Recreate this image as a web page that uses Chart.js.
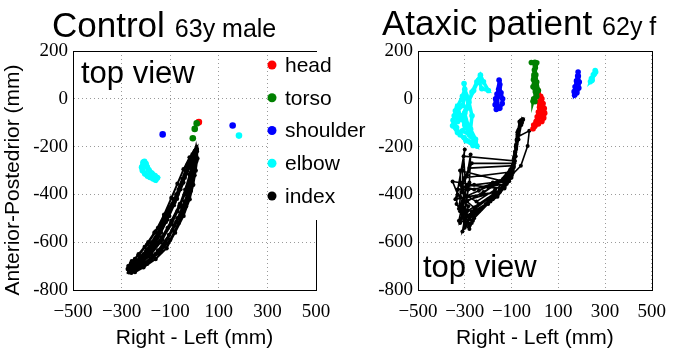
<!DOCTYPE html>
<html lang="en">

<head>
    <meta charset="UTF-8">
    <title>Control vs Ataxic patient - top view</title>
    <script src="https://cdn.jsdelivr.net/npm/chart.js"></script>
    <style>
        body {
            margin: 0;
            background: #ffffff;
            width: 677px;
            height: 351px;
            overflow: hidden;
            position: relative;
        }

        canvas {
            position: absolute;
            top: 0;
        }

        #ctrl { left: 0; }
        #atax { left: 340px; }
    </style>
</head>

<body>
    <canvas id="ctrl" width="375" height="351"></canvas>
    <canvas id="atax" width="337" height="351"></canvas>

    <script>
        // axes
        const xTicks = [-500, -300, -100, 100, 300, 500];
        const yTicks = [-800, -600, -400, -200, 0, 200];
        const parts = ['head', 'torso', 'shoulder', 'elbow', 'index'];
        const partColors = ['#ff0000', '#008000', '#0000ff', '#00ffff', '#000000'];

        // control, 63y male  [right-left, anterior-posterior] in mm
        const ctrlHead = [[16, -99], [18, -97]];
        const ctrlTorso = [[9, -103], [1, -126], [-7, -165]];
        const ctrlShoulder = [[-131, -149], [157, -112]];
        const ctrlElbowR = [[183, -154]];
        const ctrlElbowL = [[-211, -265], [-217, -286], [-214, -300], [-204, -314], [-193, -323], [-183, -328],
            [-170, -335], [-160, -340], [-153, -330], [-163, -322], [-176, -311], [-188, -298], [-195, -285],
            [-200, -272], [-206, -262]];
        const ctrlIndex = [
            [8, -212], [5, -240], [0, -290], [-10, -350], [-25, -410], [-55, -480], [-90, -550], [-125, -610], [-175, -665], [-225, -700], [-255, -715],
            [-262, -705], [-240, -680], [-200, -640], [-165, -590], [-130, -520], [-95, -450], [-65, -380], [-40, -320], [-20, -265], [0, -225],
            [2, -220], [-5, -255], [-15, -310], [-30, -375], [-60, -450], [-95, -525], [-140, -600], [-190, -660], [-240, -705], [-265, -720],
            [-250, -700], [-215, -660], [-180, -620], [-150, -570], [-115, -500], [-80, -420], [-50, -350], [-25, -290], [-8, -240], [5, -215],
            [10, -210], [12, -250], [5, -300], [-5, -360], [-20, -420], [-45, -490], [-80, -560], [-115, -625], [-160, -670], [-210, -705], [-245, -725],
            [-268, -715], [-255, -690], [-225, -665], [-195, -630], [-160, -580], [-125, -510], [-90, -440], [-60, -370], [-35, -305], [-12, -250], [3, -218],
            [6, -215], [0, -245], [-8, -300], [-20, -365], [-40, -430], [-70, -500], [-105, -570], [-150, -635], [-200, -685], [-250, -712],
            [-272, -700], [-258, -680], [-230, -655], [-195, -610], [-160, -555], [-125, -485], [-95, -415], [-70, -355], [-45, -295], [-20, -245], [0, -222],
            [9, -213], [8, -260], [0, -320], [-15, -385], [-35, -450], [-65, -520], [-100, -590], [-140, -640], [-190, -680], [-235, -708], [-260, -728],
            [-275, -712], [-245, -685], [-210, -650], [-175, -600], [-140, -540], [-105, -470], [-75, -400], [-50, -335], [-28, -275], [-8, -232], [6, -212],
            [4, -218], [-2, -270], [-12, -330], [-28, -395], [-50, -460], [-82, -530], [-118, -600], [-160, -650], [-205, -690], [-248, -718],
            [-258, -702], [-228, -672], [-190, -632], [-152, -582], [-118, -515], [-85, -445], [-58, -378], [-32, -312], [-12, -258], [2, -226],
            [7, -214], [3, -262], [-6, -322], [-22, -382], [-45, -445], [-75, -515], [-110, -585], [-150, -645], [-195, -690], [-242, -715],
            [-266, -708], [-248, -692], [-218, -668], [-185, -628], [-148, -572], [-112, -505], [-82, -432], [-55, -362], [-30, -300], [-10, -248], [4, -220],
            [0, -222], [-8, -262], [-20, -318], [-38, -380], [-62, -448], [-95, -518], [-132, -590], [-178, -650], [-222, -692], [-258, -712], [-270, -726],
            [-252, -722], [-236, -700], [-204, -664], [-170, -620], [-138, -560], [-104, -490], [-72, -418], [-46, -350], [-22, -285], [-4, -236], [8, -210],
            [5, -215], [-15, -270], [-40, -330], [-70, -400], [-110, -470], [-150, -540], [-190, -600], [-230, -650], [-262, -690], [-270, -710],
            [-245, -700], [-200, -660], [-150, -600], [-110, -540], [-70, -470], [-40, -400], [-15, -330], [2, -270], [10, -220],
            [6, -214], [-20, -280], [-50, -350], [-85, -420], [-125, -495], [-165, -560], [-205, -620], [-245, -670], [-270, -700],
            [-260, -715], [-225, -690], [-180, -640], [-135, -580], [-95, -510], [-60, -440], [-30, -370], [-8, -300], [4, -240]
        ];

        // ataxic patient, 62y f
        const atxHead = [[25, 10], [30, 0], [35, -20], [40, -40], [42, -60], [38, -80], [30, -95], [15, -105], [0, -115], [-8, -125],
            [-5, -110], [5, -95], [10, -75], [15, -55], [20, -35], [18, -15], [22, 5], [28, -30], [32, -55], [25, -75], [10, -90]];
        const atxTorso = [[-15, 152], [0, 153], [8, 151], [2, 140], [-2, 120], [-4, 100], [-6, 80], [0, 60], [10, 40], [5, 20], [-5, 0],
            [-8, -10], [0, -12], [8, 10], [15, 35], [8, 70], [4, 100], [2, 130], [-3, 90], [-8, 50], [2, 30]];
        const atxShoulderL = [[-153, 78], [-150, 60], [-155, 40], [-162, 20], [-168, 0], [-170, -25], [-165, -45], [-150, -40],
            [-140, -20], [-138, 0], [-145, 25], [-152, 50], [-158, 10], [-160, -30]];
        const atxShoulderR = [[185, 112], [183, 95], [178, 75], [172, 50], [168, 30], [170, 15], [180, 25], [188, 45], [190, 70], [186, 95]];
        const atxElbowL = [[-303, 64], [-296, 14], [-310, -28], [-345, -71], [-352, -113], [-331, -141], [-303, -162], [-269, -184],
            [-248, -198], [-254, -169], [-275, -127], [-269, -71], [-282, -14], [-269, 28], [-248, 71], [-233, 99], [-220, 71], [-199, 35],
            [-227, 42], [-241, 78], [-262, 35], [-317, -85], [-290, -106], [-310, -134], [-275, -155], [-300, -60], [-330, -95],
            [-340, -50], [-350, -90], [-335, -120], [-320, -150], [-295, -175], [-265, -195], [-255, -180], [-280, -150], [-300, -110],
            [-320, -70], [-330, -30], [-310, 10], [-300, 40], [-285, 0], [-290, -40], [-305, -80], [-290, -120], [-270, -160]];
        const atxElbowR = [[258, 118], [250, 100], [242, 85], [238, 72], [245, 78], [255, 105], [260, 112]];
        const atxIndex = [
            [-52, -85], [-66, -95], [-75, -140], [-82, -200], [-90, -250], [-105, -295], [-135, -335], [-185, -360], [-240, -385], [-300, -410],
            [-320, -450], [-300, -500], [-310, -555], [-290, -520], [-270, -470], [-200, -420], [-130, -370], [-100, -320], [-90, -260], [-80, -200],
            [-70, -150], [-55, -100], [-60, -90], [-72, -135], [-80, -190], [-88, -240], [-95, -280], [-150, -345], [-230, -400], [-340, -420],
            [-330, -380], [-300, -212], [-310, -300], [-305, -420], [-320, -470], [-280, -500], [-200, -440], [-110, -330], [-88, -270], [-270, -270],
            [-290, -320], [-275, -233], [-280, -350], [-300, -460], [-250, -480], [-160, -400], [-100, -310], [-85, -230], [-75, -160], [-24, -134],
            [-31, -198], [-60, -280], [-120, -340], [-200, -370], [-352, -346], [-330, -400], [-290, -430], [-260, -455], [-180, -410], [-110, -340],
            [-90, -285], [-80, -210], [-70, -130], [-50, -88], [-65, -100], [-78, -170], [-86, -245], [-100, -300], [-140, -345], [-220, -390],
            [-310, -440], [-325, -510], [-270, -520], [-240, -470], [-150, -390], [-100, -330], [-260, -380], [-320, -360], [-300, -400], [-250, -430],
            [-170, -380], [-115, -340], [-95, -300], [-85, -235], [-78, -175], [-62, -105],
            [-60, -95], [-75, -150], [-85, -220], [-95, -290], [-120, -330], [-180, -350], [-260, -360], [-330, -380], [-335, -440], [-310, -480],
            [-295, -530], [-280, -545], [-265, -510], [-230, -460], [-170, -400], [-120, -350], [-95, -305], [-300, -330], [-320, -410], [-285, -450],
            [-300, -540], [-270, -490], [-200, -430], [-140, -370], [-105, -330], [-85, -260], [-305, -240], [-295, -380], [-315, -500], [-290, -470],
            [-240, -440], [-150, -380], [-100, -320], [-90, -280], [-280, -290], [-310, -350], [-325, -460], [-300, -520], [-260, -500], [-190, -430],
            [-125, -360], [-95, -310], [-82, -240], [-70, -170], [-58, -110],
            [-62, -100], [-80, -205], [-98, -300], [-135, -345], [-320, -300], [-315, -390], [-290, -410], [-170, -390], [-310, -430], [-295, -490],
            [-210, -440], [-120, -355], [-285, -380], [-300, -470], [-320, -520], [-270, -480], [-180, -420], [-130, -375], [-290, -360], [-315, -440],
            [-280, -530], [-250, -470], [-160, -410], [-110, -345], [-92, -290], [-84, -225], [-72, -150], [-56, -96]
        ];

        const sans = '"Liberation Sans", Arial, sans-serif';
        const serif = '"Liberation Serif", "Times New Roman", serif';

        function ds(points, color, opts) {
            return Object.assign({
                data: points.map(p => ({ x: p[0], y: p[1] })),
                borderColor: color,
                backgroundColor: color,
                pointRadius: 3.3,
                pointBorderWidth: 0,
                showLine: false
            }, opts);
        }

        // titles, frame, legend, "top view" label
        const panelPlugin = {
            id: 'panel',
            afterDraw(chart, args, o) {
                const ctx = chart.ctx;
                const a = chart.chartArea;
                ctx.save();
                ctx.strokeStyle = '#000';
                ctx.lineWidth = 1;
                ctx.strokeRect(Math.round(a.left) + 0.5, Math.round(a.top) + 0.5,
                    Math.round(a.right - a.left), Math.round(a.bottom - a.top));

                ctx.fillStyle = '#000';
                ctx.textBaseline = 'alphabetic';
                ctx.textAlign = 'left';
                ctx.font = '35px ' + sans;
                ctx.fillText(o.title, o.titleX, o.titleY);
                const w = ctx.measureText(o.title).width;
                ctx.font = '25px ' + sans;
                ctx.fillText(o.sub, o.titleX + w + 10, o.titleY);

                ctx.font = '31px ' + sans;
                ctx.fillText('top view', o.viewX, o.viewY);

                if (o.yTitle) {
                    ctx.save();
                    ctx.translate(13, 180);
                    ctx.rotate(-Math.PI / 2);
                    ctx.textAlign = 'center';
                    ctx.textBaseline = 'middle';
                    ctx.font = '21px ' + sans;
                    ctx.fillText(o.yTitle, 0, 0);
                    ctx.restore();
                }

                if (o.legend) {
                    ctx.fillStyle = '#fff';
                    ctx.fillRect(269, Math.round(a.top) + 1, 110, 168);
                    ctx.font = '21px ' + sans;
                    ctx.textBaseline = 'middle';
                    parts.forEach((p, i) => {
                        const y = 65 + i * 32.75;
                        ctx.fillStyle = partColors[i];
                        ctx.beginPath();
                        ctx.arc(272, y, 4.5, 0, Math.PI * 2);
                        ctx.fill();
                        ctx.fillStyle = '#000';
                        ctx.fillText(p, 285, y + 1);
                    });
                }
                ctx.restore();
            }
        };

        function makeChart(id, datasets, yWidth, rightPad, panel) {
            const gridOpts = { color: '#9a9a9a', lineWidth: 1, drawTicks: false };
            const borderOpts = { display: true, color: '#000', width: 1, dash: [1, 3] };
            return new Chart(document.getElementById(id), {
                type: 'scatter',
                data: { datasets: datasets },
                options: {
                    responsive: false,
                    animation: false,
                    events: [],
                    layout: { padding: { top: 51, right: rightPad, left: 0, bottom: 0 } },
                    plugins: {
                        legend: { display: false },
                        tooltip: { enabled: false },
                        panel: panel
                    },
                    scales: {
                        x: {
                            type: 'linear',
                            min: -500,
                            max: 500,
                            afterBuildTicks: s => { s.ticks = xTicks.map(v => ({ value: v })); },
                            afterFit: s => { s.height = 61; },
                            grid: gridOpts,
                            border: borderOpts,
                            ticks: {
                                padding: 11,
                                color: '#000',
                                font: { family: serif, size: 19 },
                                maxRotation: 0,
                                callback: v => String(v).replace('-', '\u2212')
                            },
                            title: {
                                display: true,
                                text: 'Right - Left (mm)',
                                color: '#000',
                                font: { family: sans, size: 21 },
                                padding: { top: 0, bottom: 0 }
                            }
                        },
                        y: {
                            type: 'linear',
                            min: -800,
                            max: 200,
                            afterBuildTicks: s => { s.ticks = yTicks.map(v => ({ value: v })); },
                            afterFit: s => { s.width = yWidth; },
                            grid: gridOpts,
                            border: borderOpts,
                            ticks: {
                                padding: 5,
                                color: '#000',
                                font: { family: serif, size: 19 },
                                callback: v => String(v)
                            }
                        }
                    }
                },
                plugins: [panelPlugin]
            });
        }

        makeChart('ctrl', [
            ds(ctrlIndex, '#000', { showLine: true, borderWidth: 2, pointRadius: 2.2 }),
            ds(ctrlElbowL, '#00ffff', { showLine: true, borderWidth: 5, pointRadius: 3 }),
            ds(ctrlElbowR, '#00ffff'),
            ds(ctrlShoulder, '#0000ff'),
            ds(ctrlTorso, '#008000'),
            ds(ctrlHead, '#ff0000')
        ], 73, 59, {
            title: 'Control', sub: '63y male', titleX: 52, titleY: 37,
            viewX: 81, viewY: 83, yTitle: 'Anterior-Postedrior (mm)', legend: true
        });

        const blob = { showLine: true, borderWidth: 3.5, pointRadius: 2.8 };
        makeChart('atax', [
            ds(atxElbowL, '#00ffff', blob),
            ds(atxElbowR, '#00ffff', blob),
            ds(atxShoulderL, '#0000ff', blob),
            ds(atxShoulderR, '#0000ff', blob),
            ds(atxTorso, '#008000', blob),
            ds(atxHead, '#ff0000', blob),
            ds(atxIndex, '#000', { showLine: true, borderWidth: 1.6, pointRadius: 2 })
        ], 78, 20, {
            title: 'Ataxic patient', sub: '62y f', titleX: 42, titleY: 35,
            viewX: 83, viewY: 277, yTitle: null, legend: false
        });
    </script>
</body>

</html>
